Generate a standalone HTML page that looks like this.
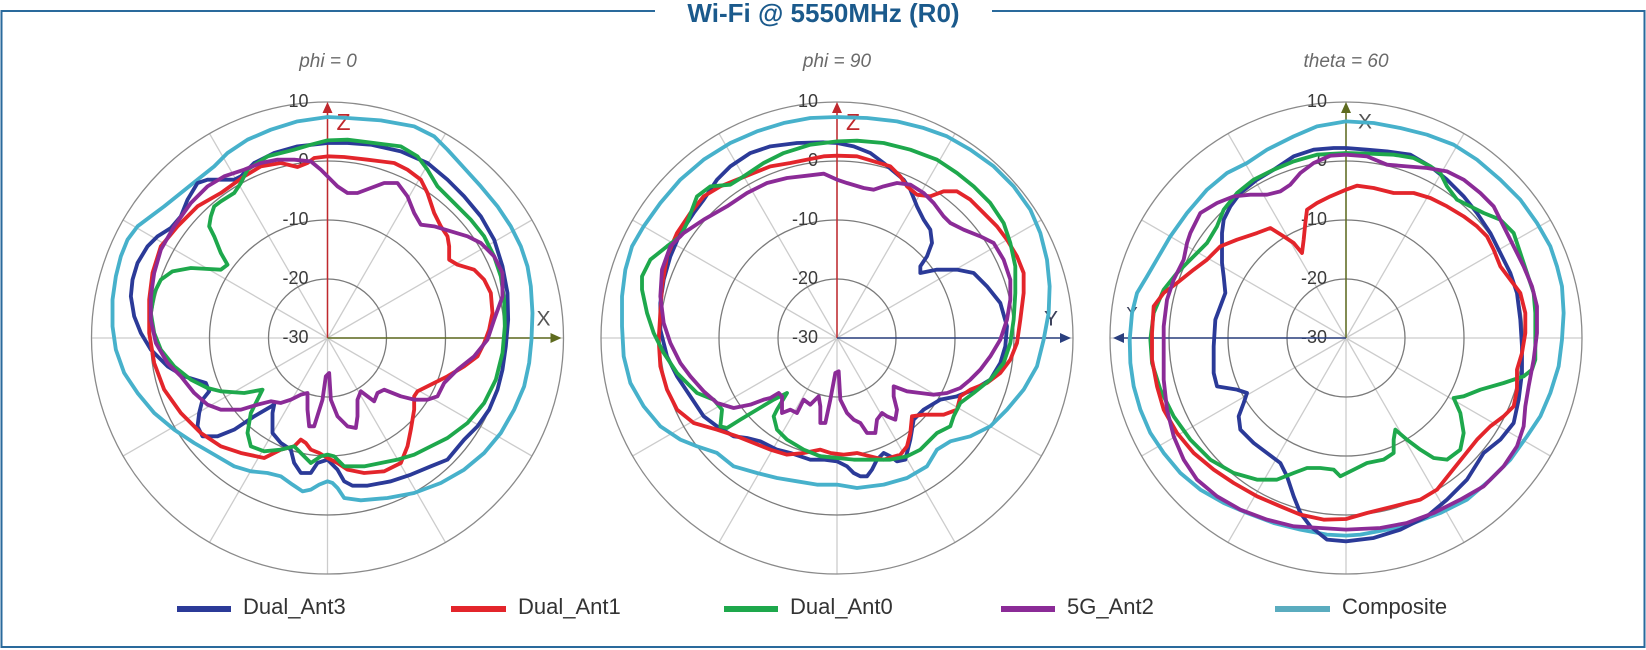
<!DOCTYPE html>
<html><head><meta charset="utf-8"><style>
html,body{margin:0;padding:0;background:#fff;}
svg{display:block;}
</style></head><body>
<svg width="1646" height="650" viewBox="0 0 1646 650" xmlns="http://www.w3.org/2000/svg" font-family="Liberation Sans, sans-serif">
<defs>
<g id="grid">
  <g stroke="#cccccc" stroke-width="1.3">
    <line x1="0" y1="0" x2="236" y2="0"/>
    <line x1="0" y1="0" x2="204.4" y2="-118"/>
    <line x1="0" y1="0" x2="118" y2="-204.4"/>
    <line x1="0" y1="0" x2="0" y2="-236"/>
    <line x1="0" y1="0" x2="-118" y2="-204.4"/>
    <line x1="0" y1="0" x2="-204.4" y2="-118"/>
    <line x1="0" y1="0" x2="-236" y2="0"/>
    <line x1="0" y1="0" x2="-204.4" y2="118"/>
    <line x1="0" y1="0" x2="-118" y2="204.4"/>
    <line x1="0" y1="0" x2="0" y2="236"/>
    <line x1="0" y1="0" x2="118" y2="204.4"/>
    <line x1="0" y1="0" x2="204.4" y2="118"/>
  </g>
  <g fill="none" stroke="#7a7a7a" stroke-width="1.3">
    <circle r="59"/><circle r="118"/><circle r="177"/><circle r="236" stroke="#8a8a8a"/>
  </g>
  <g font-size="18" fill="#3a3a3a" text-anchor="end" dominant-baseline="middle">
    <text x="-19" y="-236">10</text>
    <text x="-19" y="-177">0</text>
    <text x="-19" y="-118">-10</text>
    <text x="-19" y="-59">-20</text>
    <text x="-19" y="0">-30</text>
  </g>
</g>
</defs>

<!-- frame -->
<g stroke="#2a6a9c" stroke-width="2" fill="none">
  <polyline points="655,11 1.5,11 1.5,647 1644.5,647 1644.5,11 992,11"/>
</g>
<text x="823.5" y="15" font-size="26" font-weight="bold" fill="#1b5a8c" text-anchor="middle" dominant-baseline="middle">Wi-Fi @ 5550MHz (R0)</text>

<g font-size="19" font-style="italic" fill="#6a6a6a" text-anchor="middle">
  <text x="328" y="67">phi = 0</text>
  <text x="837" y="67">phi = 90</text>
  <text x="1346" y="67">theta = 60</text>
</g>

<!-- ===== Chart 1 ===== -->
<g transform="translate(327.5,338)">
  <use href="#grid"/>
  <line x1="0" y1="0" x2="0" y2="-228" stroke="#c0282d" stroke-width="1.5"/>
  <polygon points="0,-236 -5,-225 5,-225" fill="#c0282d"/>
  <text x="16" y="-214" font-size="23" fill="#c0282d" text-anchor="middle" dominant-baseline="middle">Z</text>
  <line x1="0" y1="0" x2="226" y2="0" stroke="#5e6b1f" stroke-width="1.5"/>
  <polygon points="234,0 223,-5 223,5" fill="#5e6b1f"/>
  <text x="216" y="-18" font-size="21" fill="#555" text-anchor="middle" dominant-baseline="middle">X</text>
</g>
<g transform="translate(327.5,338) scale(0.3333) translate(-740,-775)" fill="none" stroke-width="11.5" stroke-linejoin="round" stroke-linecap="round">
  <polygon stroke="#47b1cb" points="740,112 800,115 900,122 1000,140 1060,170 1100,210 1150,265 1200,320 1250,380 1290,440 1320,500 1340,560 1350,620 1355,700 1352,780 1345,850 1330,920 1300,990 1260,1060 1210,1120 1150,1170 1080,1210 1000,1240 920,1255 840,1262 790,1255 770,1225 755,1210 740,1205 715,1215 690,1230 665,1235 635,1215 600,1190 560,1180 510,1175 460,1160 400,1125 340,1090 280,1050 220,1000 170,940 130,880 105,810 95,740 95,660 105,590 120,530 140,480 170,440 210,410 250,380 300,340 350,300 400,260 440,220 500,180 570,150 650,125"/>
  <polygon stroke="#2b3a98" points="740,190 800,190 870,195 960,215 1040,250 1100,300 1150,350 1200,410 1240,480 1265,560 1280,640 1282,720 1275,800 1265,870 1250,930 1225,990 1190,1040 1150,1080 1100,1140 1050,1160 990,1185 930,1205 860,1218 815,1218 790,1205 770,1170 740,1140 710,1150 690,1180 660,1180 640,1150 630,1110 600,1090 575,1060 575,1000 580,975 520,1010 460,1050 410,1070 365,1070 350,1040 355,1000 365,960 385,935 375,910 310,890 260,860 210,810 180,760 160,710 150,650 155,600 170,550 200,500 230,470 270,445 300,410 320,360 350,310 380,300 420,300 460,300 480,290 520,250 580,220 650,200"/>
  <polygon stroke="#e3252b" points="740,230 790,232 860,240 940,250 980,270 1020,300 1040,340 1060,400 1080,440 1100,470 1105,500 1105,540 1130,555 1180,570 1210,600 1230,640 1235,700 1225,750 1210,790 1190,830 1150,860 1100,890 1060,910 1010,935 1000,950 1000,990 990,1050 980,1100 960,1150 910,1175 850,1180 800,1170 770,1150 740,1135 715,1120 690,1110 675,1090 660,1080 640,1100 600,1110 550,1135 480,1120 420,1100 360,1060 300,1000 250,930 220,850 205,760 205,660 215,580 240,500 290,440 350,380 420,340 490,290 540,260 600,250 650,262 680,250 700,235"/>
  <polygon stroke="#1ea84c" points="740,182 800,180 880,190 960,200 1010,230 1040,270 1070,320 1120,370 1170,420 1210,470 1240,530 1260,590 1270,660 1272,740 1265,820 1245,900 1210,970 1160,1030 1100,1075 1050,1100 1000,1125 950,1140 900,1150 850,1160 790,1160 760,1130 740,1125 720,1130 690,1150 660,1120 640,1100 600,1110 550,1115 510,1100 500,1060 510,1000 520,980 545,930 490,940 420,935 380,925 330,900 280,860 240,810 220,760 210,700 220,640 240,600 275,575 330,565 420,570 440,555 420,520 400,470 385,440 390,410 400,380 420,365 460,340 480,310 500,270 560,230 640,210 690,195"/>
  <polygon stroke="#8b2b97" points="690,245 720,270 750,300 770,320 800,340 830,340 870,325 910,310 950,310 980,350 1000,400 1020,435 1060,440 1110,455 1160,470 1200,490 1240,530 1265,580 1265,650 1240,720 1220,780 1180,830 1130,870 1090,910 1070,950 1040,960 1000,960 960,950 910,930 890,940 880,965 860,950 840,935 830,960 830,1010 825,1045 800,1040 770,1010 750,960 745,880 735,890 725,960 700,1040 685,1040 680,990 680,940 660,945 630,960 600,970 570,965 530,975 480,990 420,990 380,975 340,940 300,890 260,850 225,790 210,720 210,650 220,580 240,510 280,440 330,370 380,320 430,290 490,270 540,250 590,240 640,240"/>
</g>

<!-- ===== Chart 2 ===== -->
<g transform="translate(837,338)">
  <use href="#grid"/>
  <line x1="0" y1="0" x2="0" y2="-228" stroke="#c0282d" stroke-width="1.5"/>
  <polygon points="0,-236 -5,-225 5,-225" fill="#c0282d"/>
  <text x="16" y="-214" font-size="23" fill="#c0282d" text-anchor="middle" dominant-baseline="middle">Z</text>
  <line x1="0" y1="0" x2="226" y2="0" stroke="#2a3f7e" stroke-width="1.5"/>
  <polygon points="234,0 223,-5 223,5" fill="#2a3f7e"/>
  <text x="214" y="-18" font-size="21" fill="#3a3f5a" text-anchor="middle" dominant-baseline="middle">Y</text>
</g>
<g transform="translate(837,338) scale(0.3333) translate(-740,-775)" fill="none" stroke-width="11.5" stroke-linejoin="round" stroke-linecap="round">
  <polygon stroke="#47b1cb" points="740,112 830,115 920,125 1000,145 1070,170 1140,210 1210,260 1270,320 1320,390 1350,460 1370,540 1378,620 1375,700 1360,780 1340,860 1300,930 1250,990 1200,1040 1140,1070 1080,1085 1040,1110 1010,1160 950,1195 880,1215 800,1225 740,1215 680,1215 620,1205 560,1195 500,1180 430,1160 380,1120 320,1100 270,1080 210,1040 160,980 120,910 100,830 95,740 95,650 105,570 125,500 160,440 210,370 270,300 340,240 420,190 500,155 580,130 660,115"/>
  <polygon stroke="#2b3a98" points="740,190 790,200 840,220 880,250 910,275 940,300 960,330 980,380 1000,420 1020,450 1025,490 1010,530 990,560 990,580 1040,570 1100,570 1150,580 1190,620 1230,670 1250,740 1245,800 1230,850 1200,900 1150,930 1100,950 1050,960 1000,990 970,1020 960,1080 945,1140 920,1145 900,1130 880,1120 860,1140 845,1170 830,1190 810,1190 790,1180 770,1160 740,1145 700,1140 660,1140 600,1120 560,1110 510,1085 470,1075 430,1070 380,1040 340,1010 300,950 260,890 230,830 210,750 210,670 220,600 240,530 270,460 310,400 340,360 380,300 420,260 480,220 540,200 620,190 700,188"/>
  <polygon stroke="#e3252b" points="740,228 800,230 850,245 900,260 930,290 950,320 980,345 1020,350 1060,335 1100,335 1140,360 1180,400 1220,440 1250,480 1280,530 1300,580 1300,640 1290,720 1280,790 1260,840 1230,880 1190,910 1140,930 1110,950 1100,990 1060,1005 1000,1005 965,1010 960,1060 950,1100 930,1125 880,1140 840,1130 800,1120 760,1125 720,1120 690,1110 640,1120 590,1125 540,1110 490,1090 440,1070 380,1050 310,1030 260,990 230,930 210,860 205,780 210,700 215,620 230,530 260,460 300,400 340,350 390,320 440,300 490,280 540,260 600,250 660,238 700,230"/>
  <polygon stroke="#1ea84c" points="740,185 800,183 880,190 960,210 1040,240 1100,280 1150,320 1200,370 1240,430 1260,490 1275,560 1275,640 1270,720 1260,790 1240,850 1200,900 1150,940 1110,970 1090,1010 1080,1040 1040,1060 1020,1080 990,1110 950,1130 900,1140 850,1140 790,1140 740,1135 690,1130 640,1110 590,1080 560,1050 550,1010 560,990 590,940 550,960 500,990 450,1020 410,1045 390,1040 395,990 370,960 320,940 260,880 220,820 190,760 170,700 155,630 155,590 180,540 230,500 270,470 290,430 320,350 360,320 420,315 460,290 520,250 580,220 660,195"/>
  <polygon stroke="#8b2b97" points="740,300 770,310 820,325 850,330 880,320 920,310 960,315 1000,340 1030,370 1060,410 1080,430 1120,450 1170,470 1210,490 1240,540 1260,600 1260,660 1250,720 1230,780 1200,830 1170,870 1140,900 1110,925 1070,940 1030,945 990,940 950,935 910,920 910,950 920,990 915,1020 890,1010 875,1000 860,1020 855,1060 830,1060 810,1030 790,1020 770,1000 750,960 745,875 735,880 720,960 705,1030 690,1030 690,980 685,950 660,975 640,960 620,1000 600,990 575,1000 575,950 565,940 540,955 520,960 480,975 430,985 380,970 340,935 300,890 270,850 240,790 220,730 210,650 215,570 240,500 280,460 340,420 410,380 470,340 530,310 590,295 650,288 700,282"/>
</g>

<!-- ===== Chart 3 ===== -->
<g transform="translate(1346,338)">
  <use href="#grid"/>
  <line x1="0" y1="0" x2="0" y2="-228" stroke="#5e6b1f" stroke-width="1.5"/>
  <polygon points="0,-236 -5,-225 5,-225" fill="#5e6b1f"/>
  <text x="19" y="-215" font-size="21" fill="#555" text-anchor="middle" dominant-baseline="middle">X</text>
  <line x1="0" y1="0" x2="-224" y2="0" stroke="#2a3f7e" stroke-width="1.5"/>
  <polygon points="-233,0 -222,-5 -222,5" fill="#2a3f7e"/>
  <text x="-214" y="-24" font-size="17" fill="#3a3f5a" text-anchor="middle" dominant-baseline="middle">Y</text>
</g>
<g transform="translate(1346,338) scale(0.3333) translate(-737,-775)" fill="none" stroke-width="11.5" stroke-linejoin="round" stroke-linecap="round">
  <polygon stroke="#47b1cb" points="737,125 820,130 900,145 980,165 1060,195 1130,240 1200,300 1260,360 1310,430 1350,500 1370,560 1385,620 1390,700 1385,780 1375,860 1350,940 1320,1010 1280,1070 1230,1140 1170,1200 1100,1260 1020,1300 940,1330 860,1350 780,1365 737,1368 680,1365 600,1350 520,1330 440,1300 370,1270 300,1230 240,1180 190,1120 150,1060 120,990 100,920 90,850 88,780 95,700 110,640 140,590 175,530 210,470 260,400 320,330 380,280 440,250 500,210 580,170 650,140"/>
  <polygon stroke="#2b3a98" points="737,205 800,210 860,215 930,225 990,260 1040,300 1090,350 1130,400 1170,460 1200,520 1230,580 1250,640 1260,720 1265,800 1265,880 1255,960 1240,1030 1200,1080 1150,1120 1100,1200 1040,1260 980,1310 900,1350 820,1375 737,1385 680,1380 630,1340 600,1300 580,1250 560,1190 540,1150 500,1120 460,1090 420,1050 415,1010 430,970 440,940 410,930 350,920 340,880 340,800 345,720 360,680 375,640 370,590 365,550 365,460 370,420 390,380 420,340 470,300 520,270 580,230 640,210 700,205"/>
  <polygon stroke="#1ea84c" points="737,220 810,222 880,225 940,235 990,260 1020,280 1040,320 1070,360 1110,380 1150,400 1200,420 1240,460 1260,520 1280,580 1300,640 1305,700 1305,780 1305,840 1295,870 1270,890 1210,910 1140,930 1090,950 1060,955 1080,1000 1090,1060 1080,1110 1040,1140 1000,1135 960,1110 920,1080 885,1050 880,1080 880,1120 850,1140 800,1150 760,1170 720,1190 700,1170 660,1165 620,1165 580,1180 530,1200 470,1200 400,1180 330,1140 270,1080 220,1010 180,930 155,850 150,780 160,700 190,630 230,580 270,540 320,490 350,440 370,390 410,340 460,300 520,270 580,245 650,225"/>
  <polygon stroke="#e3252b" points="737,330 770,318 820,325 880,340 940,340 990,355 1040,380 1090,410 1130,440 1160,470 1180,510 1200,560 1230,600 1260,640 1275,700 1275,760 1265,820 1250,870 1250,930 1240,980 1210,1010 1170,1040 1130,1080 1090,1130 1050,1180 1010,1230 960,1260 880,1280 800,1300 737,1318 670,1320 600,1305 540,1280 470,1250 400,1210 340,1170 280,1120 230,1060 190,990 170,920 155,840 155,760 160,680 190,640 230,610 280,570 320,540 360,500 410,480 470,460 510,445 550,470 580,490 605,520 610,480 615,430 620,390 650,370 690,350"/>
  <polygon stroke="#8b2b97" points="737,225 800,230 860,255 920,260 980,265 1040,275 1090,300 1140,340 1180,380 1210,440 1240,500 1270,560 1295,620 1310,680 1310,760 1300,840 1285,920 1275,980 1270,1040 1250,1100 1210,1160 1150,1220 1080,1260 1000,1300 920,1330 840,1345 737,1350 660,1345 580,1340 500,1320 420,1290 350,1250 290,1200 250,1140 220,1070 200,990 190,900 190,820 190,740 200,660 220,600 250,540 260,490 270,460 300,400 350,370 400,350 450,345 500,345 540,335 570,315 600,280 640,250 690,228"/>
</g>

<!-- legend -->
<g stroke-width="6">
  <line x1="177" y1="609" x2="231" y2="609" stroke="#2b3a98"/>
  <line x1="451" y1="609" x2="506" y2="609" stroke="#e3252b"/>
  <line x1="724" y1="609" x2="778" y2="609" stroke="#1ea84c"/>
  <line x1="1001" y1="609" x2="1055" y2="609" stroke="#8b2b97"/>
  <line x1="1275" y1="609" x2="1330" y2="609" stroke="#5aacbf"/>
</g>
<g font-size="22" fill="#333" dominant-baseline="middle">
  <text x="243" y="608">Dual_Ant3</text>
  <text x="518" y="608">Dual_Ant1</text>
  <text x="790" y="608">Dual_Ant0</text>
  <text x="1067" y="608">5G_Ant2</text>
  <text x="1342" y="608">Composite</text>
</g>
</svg>
</body></html>
